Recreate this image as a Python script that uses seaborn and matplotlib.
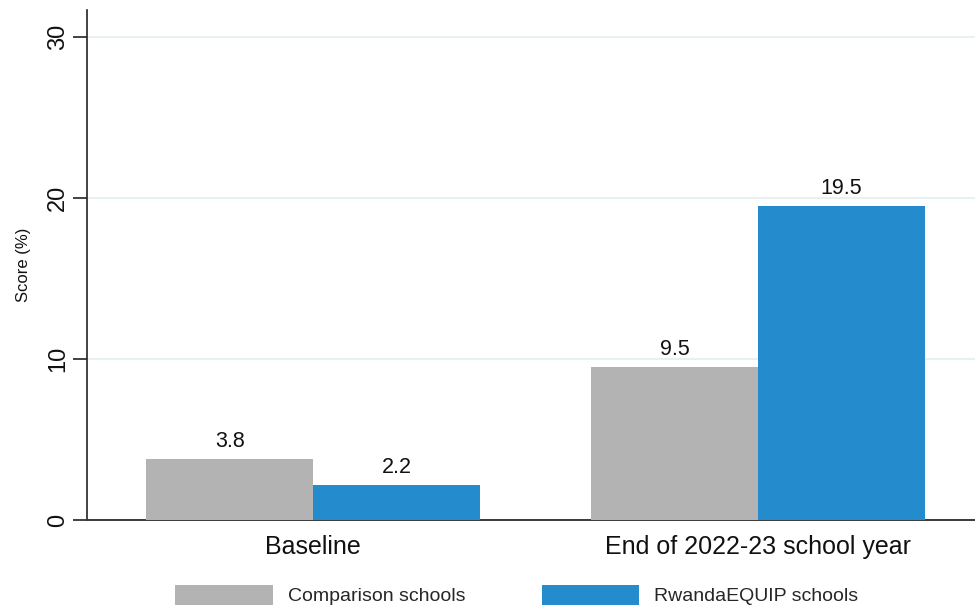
import matplotlib
matplotlib.use("Agg")
import matplotlib.pyplot as plt
import seaborn as sns
import pandas as pd

# Survey rounds and school groups
periods = ["Baseline", "End of 2022-23 school year"]
groups = ["Comparison schools", "RwandaEQUIP schools"]
comparison_scores = [3.8, 9.5]
equip_scores = [2.2, 19.5]
y_ticks = [0, 10, 20, 30]

df = pd.DataFrame({
    "period": periods * 2,
    "group": [groups[0]] * 2 + [groups[1]] * 2,
    "score": comparison_scores + equip_scores,
})

sns.set_theme(style="white")
plt.rcParams["font.family"] = ["Liberation Sans", "DejaVu Sans"]

fig = plt.figure(figsize=(9.75, 6.14), dpi=100)
ax = fig.add_axes([0.0895, 0.1531, 0.9105, 0.8306])

palette = {groups[0]: "#B3B3B3", groups[1]: "#248BCD"}
sns.barplot(data=df, x="period", y="score", hue="group", order=periods,
            hue_order=groups, palette=palette, width=0.75, gap=0,
            saturation=1, linewidth=0, ax=ax, legend=False, zorder=3)

for cont in ax.containers:
    ax.bar_label(cont, fmt="%.1f", padding=5, fontsize=15.5, color="#111111")

ax.set_xlim(-0.508, 1.488)
ax.set_ylim(0, 31.7)
ax.set_yticks(y_ticks)
ax.set_yticklabels([str(t) for t in y_ticks], rotation=90, va="center",
                   fontsize=17)
ax.tick_params(axis="y", length=10, width=1.2, color="#222222", pad=3,
               left=True)
ax.tick_params(axis="x", length=0, pad=11, labelsize=18)
for lbl in ax.get_xticklabels() + ax.get_yticklabels():
    lbl.set_color("#111111")

ax.yaxis.grid(True, color="#E8F1F2", linewidth=1.5, zorder=0)
ax.xaxis.grid(False)
ax.set_axisbelow(True)

for side in ["top", "right"]:
    ax.spines[side].set_visible(False)
ax.spines["left"].set_color("#222222")
ax.spines["left"].set_linewidth(1.2)
ax.spines["bottom"].set_color("#3a3a3a")
ax.spines["bottom"].set_linewidth(1.4)

ax.set_xlabel("")
ax.set_ylabel("Score (%)", fontsize=12, labelpad=12, color="#111111")

handles = [plt.Rectangle((0, 0), 1, 1, facecolor=palette[g], edgecolor="none")
           for g in groups]
fig.legend(handles, groups, loc="center", bbox_to_anchor=(517 / 975, 0.031),
           ncol=2, frameon=False, fontsize=14, handlelength=5.0,
           handleheight=1.25, handletextpad=0.8, columnspacing=3.9)

fig.savefig("out.png", dpi=100, facecolor="white")
